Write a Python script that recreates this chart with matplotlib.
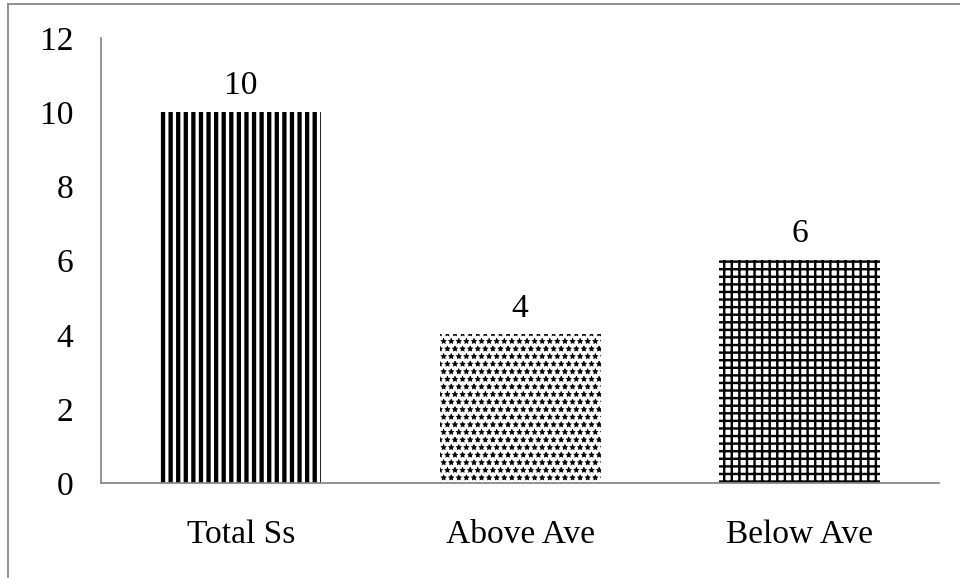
import matplotlib
matplotlib.use("Agg")
import matplotlib.pyplot as plt
from matplotlib.lines import Line2D

categories = ["Total Ss", "Above Ave", "Below Ave"]
values = [10, 4, 6]
y_ticks = [0, 2, 4, 6, 8, 10, 12]

hatches = ["||", "**", "++"]
hatch_widths = [3.4, 0.6, 1.9]

DPI = 91
FS = 26.5
plt.rcParams["font.family"] = ["Liberation Serif", "DejaVu Serif"]
plt.rcParams["font.size"] = FS

fig = plt.figure(figsize=(960.4 / DPI, 578.4 / DPI), dpi=DPI)
ax = fig.add_axes([101 / 960, (578 - 483) / 578, (939 - 101) / 960, (483 - 38) / 578])

x = list(range(len(categories)))
bars = ax.bar(x, values, width=0.575, color="white", edgecolor="black",
              linewidth=0)
for bar, h, hw in zip(bars, hatches, hatch_widths):
    bar.set_hatch(h)
    if hasattr(bar, "set_hatch_linewidth"):
        bar.set_hatch_linewidth(hw)

for xi, v in zip(x, values):
    ax.annotate(str(v), (xi, v), xytext=(0, 9), textcoords="offset points",
                ha="center", va="bottom", fontsize=FS)

ax.set_xlim(-0.5, len(categories) - 0.5)
ax.set_ylim(0, 12)
ax.set_yticks(y_ticks)
ax.set_yticklabels([str(t) for t in y_ticks])
ax.set_xticks(x)
ax.set_xticklabels(categories)
ax.tick_params(axis="both", length=0, labelsize=FS)
ax.tick_params(axis="y", pad=22)
ax.tick_params(axis="x", pad=29)

for side in ("top", "right"):
    ax.spines[side].set_visible(False)
for side in ("left", "bottom"):
    ax.spines[side].set_color("#868686")
    ax.spines[side].set_linewidth(1.4)

# outer frame edges
fig.add_artist(Line2D([8 / 960, 8 / 960], [0, 1 - 4 / 578],
                      transform=fig.transFigure, color="#868686", lw=1.4))
fig.add_artist(Line2D([8 / 960, 1], [1 - 4 / 578, 1 - 4 / 578],
                      transform=fig.transFigure, color="#868686", lw=1.4))

fig.savefig("out.png", dpi=DPI)
